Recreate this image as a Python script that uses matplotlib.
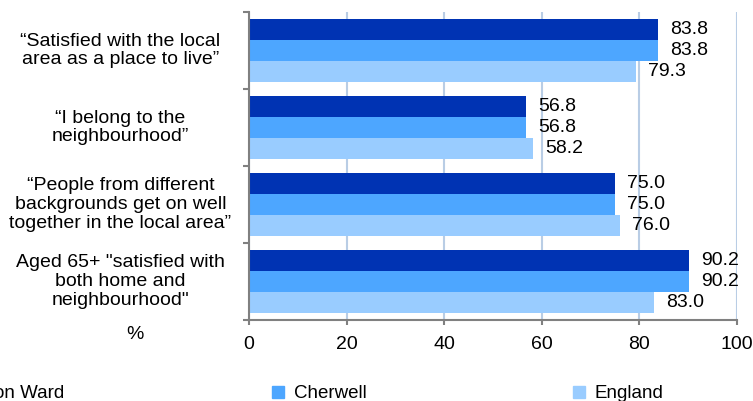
import numpy as np
import matplotlib
matplotlib.use("Agg")
from matplotlib import pyplot as plt
from matplotlib.patches import Patch

categories = ["\u201cSatisfied with the local\narea as a place to live\u201d",
              "\u201cI belong to the\nneighbourhood\u201d",
              "\u201cPeople from different\nbackgrounds get on well\ntogether in the local area\u201d",
              "Aged 65+ \"satisfied with\nboth home and\nneighbourhood\""]
ward = [83.8, 56.8, 75.0, 90.2]
cherwell = [83.8, 56.8, 75.0, 90.2]
england = [79.3, 58.2, 76.0, 83.0]
series_names = ["on Ward", "Cherwell", "England"]
xticks = [0, 20, 40, 60, 80, 100]

colors = ["#0033b3", "#4da6ff", "#99ccff"]

plt.rcParams['font.family'] = ['Liberation Sans', 'DejaVu Sans']
plt.rcParams['font.size'] = 14

fig = plt.figure(figsize=(7.53, 4.01), dpi=100)
ax = fig.add_axes([249/753, 1-320/401, 488/753, 308/401])

y = np.arange(len(categories))
h = 0.273
for i, (vals, c) in enumerate(zip([ward, cherwell, england], colors)):
    pos = y + (i - 1) * h
    ax.barh(pos, vals, height=h, color=c, zorder=3)
    for p, v in zip(pos, vals):
        ax.text(v + 2.5, p, "%.1f" % v, va="center", ha="left")

ax.set_xlim(0, 100)
ax.set_ylim(len(categories) - 0.5, -0.5)
ax.set_xticks(xticks)
ax.set_xticklabels([str(t) for t in xticks])
ax.set_yticks(np.arange(len(categories) + 1) - 0.5)
ax.set_yticklabels([])
ax.tick_params(axis="y", length=4.5, color="#808080", width=1.5)
ax.tick_params(axis="x", length=3.6, color="#808080", width=1.5, pad=8)
ax.grid(axis="x", color="#b9cde5", linewidth=1.5, zorder=0)
for s in ["top", "right"]:
    ax.spines[s].set_visible(False)
for s in ["left", "bottom"]:
    ax.spines[s].set_color("#808080")
    ax.spines[s].set_linewidth(1.5)
    ax.spines[s].set_zorder(4)

tr = ax.get_yaxis_transform()
for yi, lab in zip(y, categories):
    ax.text((120.5-249)/488, yi, lab, transform=tr, ha="center", va="center",
            linespacing=1.13)
ax.text((135-249)/488, -0.018, "%", transform=ax.transAxes, ha="center", va="top")

# legend (first entry cut off at the left edge)
ly = 1 - 394/401
fig.text(-6/753, ly, series_names[0], ha="left", va="center", fontsize=13.5)
for name, c, x0 in zip(series_names[1:], colors[1:], [272, 573]):
    fig.legend([Patch(color=c)], [name], loc="center left",
               bbox_to_anchor=(x0/753, ly), frameon=False, fontsize=13.5,
               handlelength=0.62, handleheight=0.62, handletextpad=0.55,
               borderpad=0, borderaxespad=0)

fig.savefig("out.png", dpi=100)
